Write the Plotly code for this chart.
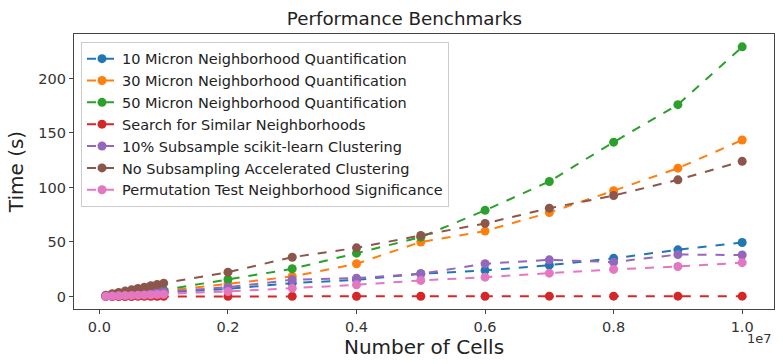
import plotly.graph_objects as go

cells = [1e5, 2e5, 3e5, 4e5, 5e5, 6e5, 7e5, 8e5, 9e5, 1e6,
         2e6, 3e6, 4e6, 5e6, 6e6, 7e6, 8e6, 9e6, 1e7]

names = [
    "10 Micron Neighborhood Quantification",
    "30 Micron Neighborhood Quantification",
    "50 Micron Neighborhood Quantification",
    "Search for Similar Neighborhoods",
    "10% Subsample scikit-learn Clustering",
    "No Subsampling Accelerated Clustering",
    "Permutation Test Neighborhood Significance",
]

micron10 = [0.3, 0.6, 1.0, 1.3, 1.7, 2.0, 2.4, 2.7, 3.1, 3.5,
            7.0, 12.2, 15.3, 20.8, 23.9, 28.7, 35.0, 42.8, 49.5]
micron30 = [0.4, 0.9, 1.4, 1.9, 2.4, 2.9, 3.4, 3.9, 4.4, 5.0,
            11.6, 18.3, 30.0, 50.0, 60.0, 77.0, 97.0, 117.7, 143.5]
micron50 = [0.5, 1.1, 1.7, 2.3, 2.9, 3.5, 4.1, 4.7, 5.3, 6.0,
            15.6, 25.4, 39.7, 54.4, 79.0, 105.5, 141.6, 176.0, 229.0]
search = [0.0, 0.0, 0.0, 0.0, 0.0, 0.1, 0.1, 0.1, 0.1, 0.1,
          0.1, 0.1, 0.2, 0.2, 0.2, 0.3, 0.3, 0.3, 0.3]
subsample = [0.4, 0.8, 1.2, 1.6, 2.0, 2.5, 3.0, 3.5, 4.0, 4.5,
             8.5, 15.3, 16.8, 20.8, 30.0, 33.6, 31.5, 38.5, 38.0]
accelerated = [1.2, 2.5, 3.7, 4.9, 6.1, 7.3, 8.5, 9.8, 11.0, 12.2,
               22.3, 36.0, 44.6, 56.0, 67.0, 81.0, 92.6, 107.0, 124.0]
permutation = [0.2, 0.4, 0.6, 0.8, 1.0, 1.2, 1.4, 1.6, 1.8, 2.0,
               4.6, 7.6, 10.7, 14.7, 17.7, 21.4, 24.8, 27.5, 31.0]

series = [micron10, micron30, micron50, search, subsample, accelerated, permutation]
colors = ["#1f77b4", "#ff7f0e", "#2ca02c", "#d62728", "#9467bd", "#8c564b", "#e377c2"]

x_tickvals = [0, 2e6, 4e6, 6e6, 8e6, 1e7]
x_ticktext = ["0.0", "0.2", "0.4", "0.6", "0.8", "1.0"]
y_tickvals = [0, 50, 100, 150, 200]

fig = go.Figure()
for name, ys, c in zip(names, series, colors):
    fig.add_trace(go.Scatter(
        x=cells, y=ys, name=name, mode="lines+markers",
        line=dict(color=c, width=2, dash="dash"),
        marker=dict(color=c, size=9),
    ))

font = "DejaVu Sans, sans-serif"
axis_common = dict(
    showgrid=False, zeroline=False, showline=True, linecolor="#444", linewidth=1.2,
    mirror=True, ticks="outside", ticklen=4, tickcolor="#444",
    tickfont=dict(family=font, size=14.5, color="#333"),
)
fig.update_layout(
    width=783, height=364,
    margin=dict(l=74, r=9, t=34, b=55),
    paper_bgcolor="white", plot_bgcolor="white",
    title=dict(text="Performance Benchmarks", xref="container", x=0.5166, xanchor="center",
               y=0.948, yanchor="middle",
               font=dict(family=font, size=18.3, color="#222")),
    xaxis=dict(range=[-3.95e5, 1.0495e7], tickvals=x_tickvals, ticktext=x_ticktext,
               title=dict(text="Number of Cells", font=dict(family=font, size=20, color="#222"), standoff=6),
               **axis_common),
    yaxis=dict(range=[-11.5, 240.8], tickvals=y_tickvals,
               title=dict(text="Time (s)", font=dict(family=font, size=20, color="#222"), standoff=9),
               **axis_common),
    legend=dict(x=0.01, y=0.972, xanchor="left", yanchor="top",
                bgcolor="rgba(255,255,255,0.8)", bordercolor="#ccc", borderwidth=1,
                font=dict(family=font, size=14.5, color="#222"), tracegroupgap=0, itemwidth=30),
    showlegend=True,
    annotations=[dict(text="1e7", xref="paper", yref="paper", x=1.0, y=-0.072,
                      xanchor="right", yanchor="top", showarrow=False,
                      font=dict(family=font, size=13, color="#333"))],
)

fig.write_html("out.html", post_script="document.body.style.margin='0';",
               config={"displayModeBar": False})
